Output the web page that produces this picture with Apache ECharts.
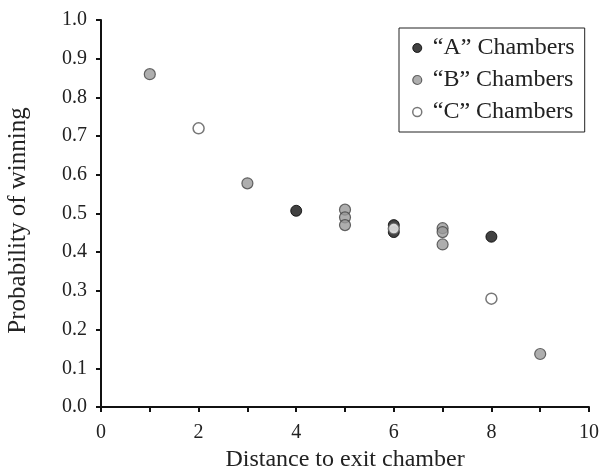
<!DOCTYPE html>
<html><head><meta charset="utf-8">
<script src="https://cdn.jsdelivr.net/npm/echarts@6/dist/echarts.min.js"></script>
<style>html,body{margin:0;padding:0;background:#fff}#c{width:599px;height:471px}</style>
</head><body><div id="c"></div>
<script>
const seriesNames = ['\u201CA\u201D Chambers', '\u201CB\u201D Chambers', '\u201CC\u201D Chambers'];
const aPoints = [[4, 0.507], [6, 0.47], [6, 0.452], [8, 0.44]];
const bPoints = [[1, 0.86], [3, 0.578], [5, 0.51], [5, 0.49], [5, 0.47], [7, 0.462], [7, 0.452], [7, 0.42], [9, 0.137]];
const cPoints = [[2, 0.72], [6, 0.461], [8, 0.28]];
const xTickLabels = ['0', '2', '4', '6', '8', '10'];
const yTickLabels = ['0.0','0.1','0.2','0.3','0.4','0.5','0.6','0.7','0.8','0.9','1.0'];

const font = '"Liberation Serif", "Times New Roman", serif';
const styles = [
  {color: '#111111', borderColor: '#000', borderWidth: 1},
  {color: '#9a9a9a', borderColor: '#444', borderWidth: 1.2},
  {color: '#ffffff', borderColor: '#555', borderWidth: 1.5}
];
const chart = echarts.init(document.getElementById('c'));
chart.setOption({
  animation: false,
  grid: {left: 101, right: 10, top: 20, bottom: 64, containLabel: false, outerBoundsMode: 'none'},
  legend: {
    orient: 'vertical', left: 399, top: 28,
    padding: [8, 10, 8, 13],
    itemGap: 8, itemWidth: 9, itemHeight: 9,
    borderColor: '#222', borderWidth: 1,
    textStyle: {fontFamily: font, fontSize: 24, color: '#222', padding: [0, 0, 0, 6]},
    data: seriesNames.map((n, i) => ({name: n, icon: 'circle', itemStyle: styles[i]}))
  },
  xAxis: {
    type: 'value', min: 0, max: 10, interval: 1,
    name: 'Distance to exit chamber', nameLocation: 'middle', nameGap: 40,
    nameTextStyle: {fontFamily: font, fontSize: 24, color: '#222'},
    axisLine: {show: true, lineStyle: {color: '#111', width: 2}},
    axisTick: {show: true, length: 5, lineStyle: {color: '#111', width: 2}},
    splitLine: {show: false},
    axisLabel: {fontFamily: font, fontSize: 20, color: '#222', margin: 16,
      formatter: v => (v % 2 === 0 ? xTickLabels[v / 2] : '')}
  },
  yAxis: {
    type: 'value', min: 0, max: 1, interval: 0.1,
    name: 'Probability of winning', nameLocation: 'middle', nameGap: 70,
    nameTextStyle: {fontFamily: font, fontSize: 25, color: '#222', padding: [0, 14, 0, 0]},
    axisLine: {show: true, lineStyle: {color: '#111', width: 2}},
    axisTick: {show: true, length: 5, lineStyle: {color: '#111', width: 2}},
    splitLine: {show: false},
    axisLabel: {fontFamily: font, fontSize: 20, color: '#222', margin: 14,
      formatter: v => yTickLabels[Math.round(v * 10)]}
  },
  series: [aPoints, bPoints, cPoints].map((d, i) => ({
    name: seriesNames[i], type: 'scatter', data: d, symbol: 'circle', symbolSize: 11,
    itemStyle: styles[i], z: 2 + i
  }))
});
</script></body></html>
